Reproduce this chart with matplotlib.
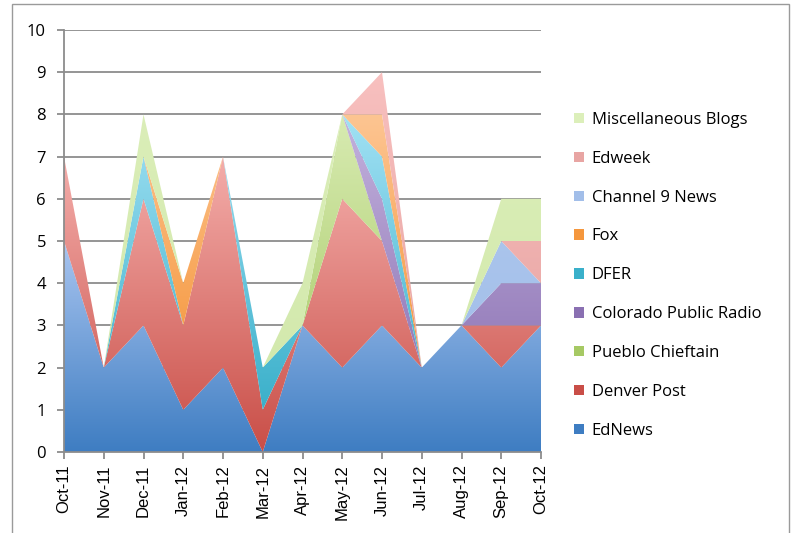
import numpy as np
import matplotlib
matplotlib.use("Agg")
import matplotlib.pyplot as plt
from matplotlib.colors import LinearSegmentedColormap
from matplotlib.patches import Rectangle

months = ["Oct-11", "Nov-11", "Dec-11", "Jan-12", "Feb-12", "Mar-12", "Apr-12",
          "May-12", "Jun-12", "Jul-12", "Aug-12", "Sep-12", "Oct-12"]

ednews      = [5, 2, 3, 1, 2, 0, 3, 2, 3, 2, 3, 2, 3]
denver_post = [2, 0, 3, 2, 5, 1, 0, 4, 2, 0, 0, 1, 0]
pueblo      = [0, 0, 0, 0, 0, 0, 0, 2, 0, 0, 0, 0, 0]
cpr         = [0, 0, 0, 0, 0, 0, 0, 0, 1, 0, 0, 1, 1]
dfer        = [0, 0, 1, 0, 0, 1, 0, 0, 1, 0, 0, 0, 0]
fox         = [0, 0, 0, 1, 0, 0, 0, 0, 1, 0, 0, 0, 0]
channel9    = [0, 0, 0, 0, 0, 0, 0, 0, 0, 0, 0, 1, 0]
edweek      = [0, 0, 0, 0, 0, 0, 0, 0, 1, 0, 0, 0, 1]
misc_blogs  = [0, 0, 1, 0, 0, 0, 1, 0, 0, 0, 0, 1, 1]

series_names = ["EdNews", "Denver Post", "Pueblo Chieftain", "Colorado Public Radio",
                "DFER", "Fox", "Channel 9 News", "Edweek", "Miscellaneous Blogs"]
series_vals = [ednews, denver_post, pueblo, cpr, dfer, fox, channel9, edweek, misc_blogs]
# (top colour, bottom colour)
series_cols = [("#a9c5f0", "#3e7dc2"),
               ("#f4aeab", "#c94e47"),
               ("#d8ebb2", "#a6c964"),
               ("#c3b2dd", "#8a70b2"),
               ("#a2e1f4", "#3ab0ca"),
               ("#fdc592", "#f5973d"),
               ("#b2cbef", "#a2bee9"),
               ("#f8c0bf", "#e8a5a3"),
               ("#dcefba", "#d3e9ad")]

fig = plt.figure(figsize=(7.94, 5.33), dpi=100)
ax = fig.add_axes([64/794, 1-452/533, (541-64)/794, (452-30)/533])

x = np.arange(len(months))
base = np.zeros(len(months))
handles = []
for name, vals, (ctop, cbot) in zip(series_names, series_vals, series_cols):
    v = np.array(vals, dtype=float)
    top = base + v
    if v.sum() > 0:
        poly = ax.fill_between(x, base, top, facecolor="none", edgecolor="none", lw=0)
        ymin = base.min()
        ymax = top.max()
        cmap = LinearSegmentedColormap.from_list(name, [cbot, ctop])
        grad = np.linspace(0, 1, 256).reshape(-1, 1)
        im = ax.imshow(grad, cmap=cmap, origin="lower",
                       extent=[x[0], x[-1], ymin, ymax], aspect="auto",
                       zorder=2, interpolation="bilinear")
        im.set_clip_path(poly.get_paths()[0], transform=ax.transData)
    handles.append(Rectangle((0, 0), 1, 1,
                             facecolor=cbot if name != "Miscellaneous Blogs" else ctop,
                             edgecolor="none"))
    base = top

ax.set_xlim(0, 12)
ax.set_ylim(0, 10)
ax.set_yticks(range(0, 11))
ax.set_xticks(x)
ax.set_xticklabels(months, rotation=90, fontsize=12, family="Liberation Sans")
for lab in ax.get_yticklabels():
    lab.set_fontsize(12)
    lab.set_family("Open Sans")
ax.yaxis.grid(True, color="#8c8c8c", lw=1.3, zorder=1)
ax.set_axisbelow(True)
for s in ["top", "right"]:
    ax.spines[s].set_visible(False)
for s in ["left", "bottom"]:
    ax.spines[s].set_color("#8c8c8c")
    ax.spines[s].set_linewidth(1.3)
ax.tick_params(axis="both", direction="out", length=5, color="#8c8c8c", width=1.3)
ax.tick_params(axis="y", pad=8)
ax.tick_params(axis="x", pad=4)

# legend
h = handles[::-1]
l = series_names[::-1]
leg = fig.legend(h, l, loc="upper left", bbox_to_anchor=(559/794, 1-97/533),
                 frameon=False, handlelength=0.6, handleheight=0.6, handletextpad=0.45,
                 labelspacing=1.37, prop={"family": "Open Sans", "size": 12})

# outer chart border
fig.add_artist(Rectangle((12/794, -0.05), (789-12)/794, 1.05 - 4/533,
                         transform=fig.transFigure, fill=False,
                         edgecolor="#9a9a9a", lw=1.0))

fig.savefig("out.png", dpi=100)
